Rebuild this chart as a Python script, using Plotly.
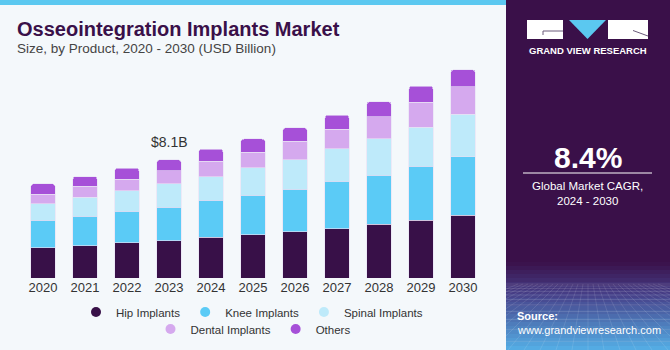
import plotly.graph_objects as go

# ---------------- data ----------------
years = ["2020", "2021", "2022", "2023", "2024", "2025", "2026", "2027", "2028", "2029", "2030"]
hip_implants = [2.07, 2.21, 2.42, 2.55, 2.78, 2.96, 3.17, 3.38, 3.67, 3.97, 4.31]
knee_implants = [1.87, 2.01, 2.14, 2.31, 2.53, 2.72, 2.92, 3.24, 3.36, 3.67, 3.99]
spinal_implants = [1.14, 1.30, 1.42, 1.60, 1.64, 1.87, 2.01, 2.22, 2.49, 2.67, 2.92]
dental_implants = [0.66, 0.75, 0.77, 0.89, 1.03, 1.05, 1.25, 1.34, 1.51, 1.71, 1.89]
others = [0.71, 0.68, 0.78, 0.75, 0.85, 0.92, 0.94, 0.96, 1.05, 1.12, 1.16]
series_names = ["Hip Implants", "Knee Implants", "Spinal Implants", "Dental Implants", "Others"]
highlight_year = "2023"
cagr_text = "8.4%"

series_values = [hip_implants, knee_implants, spinal_implants, dental_implants, others]
colors = ["#381048", "#5BCBF6", "#BEEAFA", "#D5A9EE", "#A650D8"]
legend_rows = ["legend", "legend", "legend", "legend2", "legend2"]

# ---------------- geometry ----------------
W, H = 670, 350
ML, MR, MT, MB = 22, 186, 60, 72
PW = W - ML - MR
PH = H - MT - MB
UNIT = 0.06847  # billions per pixel


def px(x):
    return (x - ML) / PW


def py(y):
    return (H - MB - y) / PH


FONT = "Liberation Sans, Arial, sans-serif"
PURPLE = "#3A1049"
BG = "#F4F8FB"

fig = go.Figure()
for name, vals, col in zip(series_names, series_values, colors):
    fig.add_trace(go.Bar(
        x=years, y=vals, name=name, width=0.58, showlegend=False,
        marker=dict(color=col, line=dict(color="rgba(232,224,244,0.9)", width=0.7)),
    ))
for name, col, lg in zip(series_names, colors, legend_rows):
    fig.add_trace(go.Scatter(
        x=[None], y=[None], mode="markers", name=name, legend=lg,
        marker=dict(color=col, size=10, symbol="circle"),
    ))

idx = years.index(highlight_year)
total_hl = sum(v[idx] for v in series_values)

shapes = []
annotations = []

# top stripe
shapes.append(dict(type="rect", xref="paper", yref="paper", x0=px(0), x1=px(506), y0=py(0), y1=py(5),
                   fillcolor="#5BC8F0", line=dict(width=0), layer="below"))
# right panel
shapes.append(dict(type="rect", xref="paper", yref="paper", x0=px(506), x1=px(670), y0=py(0), y1=py(350),
                   fillcolor=PURPLE, line=dict(width=0), layer="below"))


def lerp(a, b, t):
    return tuple(int(round(a[i] + (b[i] - a[i]) * t)) for i in range(3))


c_top = (58, 16, 73)
c_mid = (70, 62, 135)
c_bot = (85, 175, 230)
y_start, y_end = 262, 350
n = 22
for i in range(n):
    y0 = y_start + (y_end - y_start) * i / n
    y1 = y_start + (y_end - y_start) * (i + 1) / n
    t = (i + 0.5) / n
    if t < 0.35:
        c = lerp(c_top, c_mid, t / 0.35)
    else:
        c = lerp(c_mid, c_bot, (t - 0.35) / 0.65)
    shapes.append(dict(type="rect", xref="paper", yref="paper", x0=px(506), x1=px(670), y0=py(y0), y1=py(y1 + 0.5),
                       fillcolor="rgb(%d,%d,%d)" % c, line=dict(width=0), layer="below"))
# perspective grid lines
hy = 284
yy = hy
step = 2.0
while yy < 350:
    shapes.append(dict(type="line", xref="paper", yref="paper", x0=px(506), x1=px(670), y0=py(yy), y1=py(yy),
                       line=dict(color="rgba(255,255,255,0.18)", width=0.7), layer="below"))
    yy += step
    step *= 1.22
for k in range(-14, 15):
    xb = 588 + k * 16
    xt = 588 + k * 5
    shapes.append(dict(type="line", xref="paper", yref="paper", x0=px(xt), x1=px(xb), y0=py(hy), y1=py(350),
                       line=dict(color="rgba(255,255,255,0.16)", width=0.7), layer="below"))
# cover grid lines spilling outside the panel
shapes.append(dict(type="rect", xref="paper", yref="paper", x0=px(-5), x1=px(506), y0=py(280), y1=py(355),
                   fillcolor=BG, line=dict(width=0), layer="below"))

# logo
shapes.append(dict(type="rect", xref="paper", yref="paper", x0=px(527), x1=px(563), y0=py(20), y1=py(39),
                   fillcolor="white", line=dict(width=0)))
shapes.append(dict(type="line", xref="paper", yref="paper", x0=px(543), x1=px(563), y0=py(31), y1=py(31),
                   line=dict(color="#6a5a7a", width=1)))
shapes.append(dict(type="line", xref="paper", yref="paper", x0=px(543), x1=px(543), y0=py(31), y1=py(35),
                   line=dict(color="#6a5a7a", width=1)))
shapes.append(dict(type="path", xref="paper", yref="paper",
                   path="M %f,%f L %f,%f L %f,%f Z" % (px(569), py(20), px(606), py(20), px(587.5), py(39)),
                   fillcolor="#5BC8F0", line=dict(width=0)))
shapes.append(dict(type="rect", xref="paper", yref="paper", x0=px(608), x1=px(648), y0=py(20), y1=py(39),
                   fillcolor="white", line=dict(width=0)))
shapes.append(dict(type="line", xref="paper", yref="paper", x0=px(633), x1=px(648), y0=py(30.5), y1=py(36),
                   line=dict(color="#6a5a7a", width=1)))
# divider line under CAGR
shapes.append(dict(type="line", xref="paper", yref="paper", x0=px(523), x1=px(652), y0=py(173), y1=py(173),
                   line=dict(color="white", width=1)))


def ann(text, x, y, size, color, bold=False, xanchor="left", yanchor="middle"):
    annotations.append(dict(
        text=("<b>%s</b>" % text) if bold else text, xref="paper", yref="paper", x=px(x), y=py(y),
        xanchor=xanchor, yanchor=yanchor, showarrow=False,
        font=dict(family=FONT, size=size, color=color),
    ))


ann("Osseointegration Implants Market", 15, 29, 20, PURPLE, bold=True)
ann("Size, by Product, 2020 - 2030 (USD Billion)", 15, 48.5, 13.5, "#444444")
ann("GRAND VIEW RESEARCH", 587.5, 51, 9.5, "white", bold=True, xanchor="center")
ann(cagr_text, 587.5, 157, 30, "white", bold=True, xanchor="center")
ann("Global Market CAGR,", 587.5, 186, 11.5, "white", xanchor="center")
ann("2024 - 2030", 587.5, 201, 11.5, "white", xanchor="center")
ann("Source:", 515, 316, 11, "white", bold=True)
ann("www.grandviewresearch.com", 515, 330, 11, "white")

annotations.append(dict(
    text="$%.1fB" % total_hl, x=idx, y=total_hl, xref="x", yref="y",
    yanchor="bottom", yshift=8, showarrow=False,
    font=dict(family=FONT, size=14, color="#333333"),
))

legend_common = dict(orientation="h", xanchor="center", yanchor="middle",
                     font=dict(size=11.5, color="#333333", family=FONT), bgcolor="rgba(0,0,0,0)",
                     itemclick=False, itemdoubleclick=False, traceorder="normal")

fig.update_layout(
    width=W, height=H,
    margin=dict(l=ML, r=MR, t=MT, b=MB, pad=0, autoexpand=False),
    barmode="stack",
    barcornerradius=3,
    paper_bgcolor=BG, plot_bgcolor=BG,
    font=dict(family=FONT, size=13, color="#333333"),
    xaxis=dict(type="category", range=[-0.5, 10.5], showgrid=False, showline=False, zeroline=False,
               ticks="", tickfont=dict(size=13, color="#333333"), fixedrange=True),
    yaxis=dict(range=[0, PH * UNIT], visible=False, fixedrange=True),
    legend=dict(x=px(252), y=py(312), **legend_common),
    legend2=dict(x=px(253), y=py(329), **legend_common),
    shapes=shapes,
    annotations=annotations,
    showlegend=True,
)

fig.write_html("out.html", config={"displayModeBar": False})
